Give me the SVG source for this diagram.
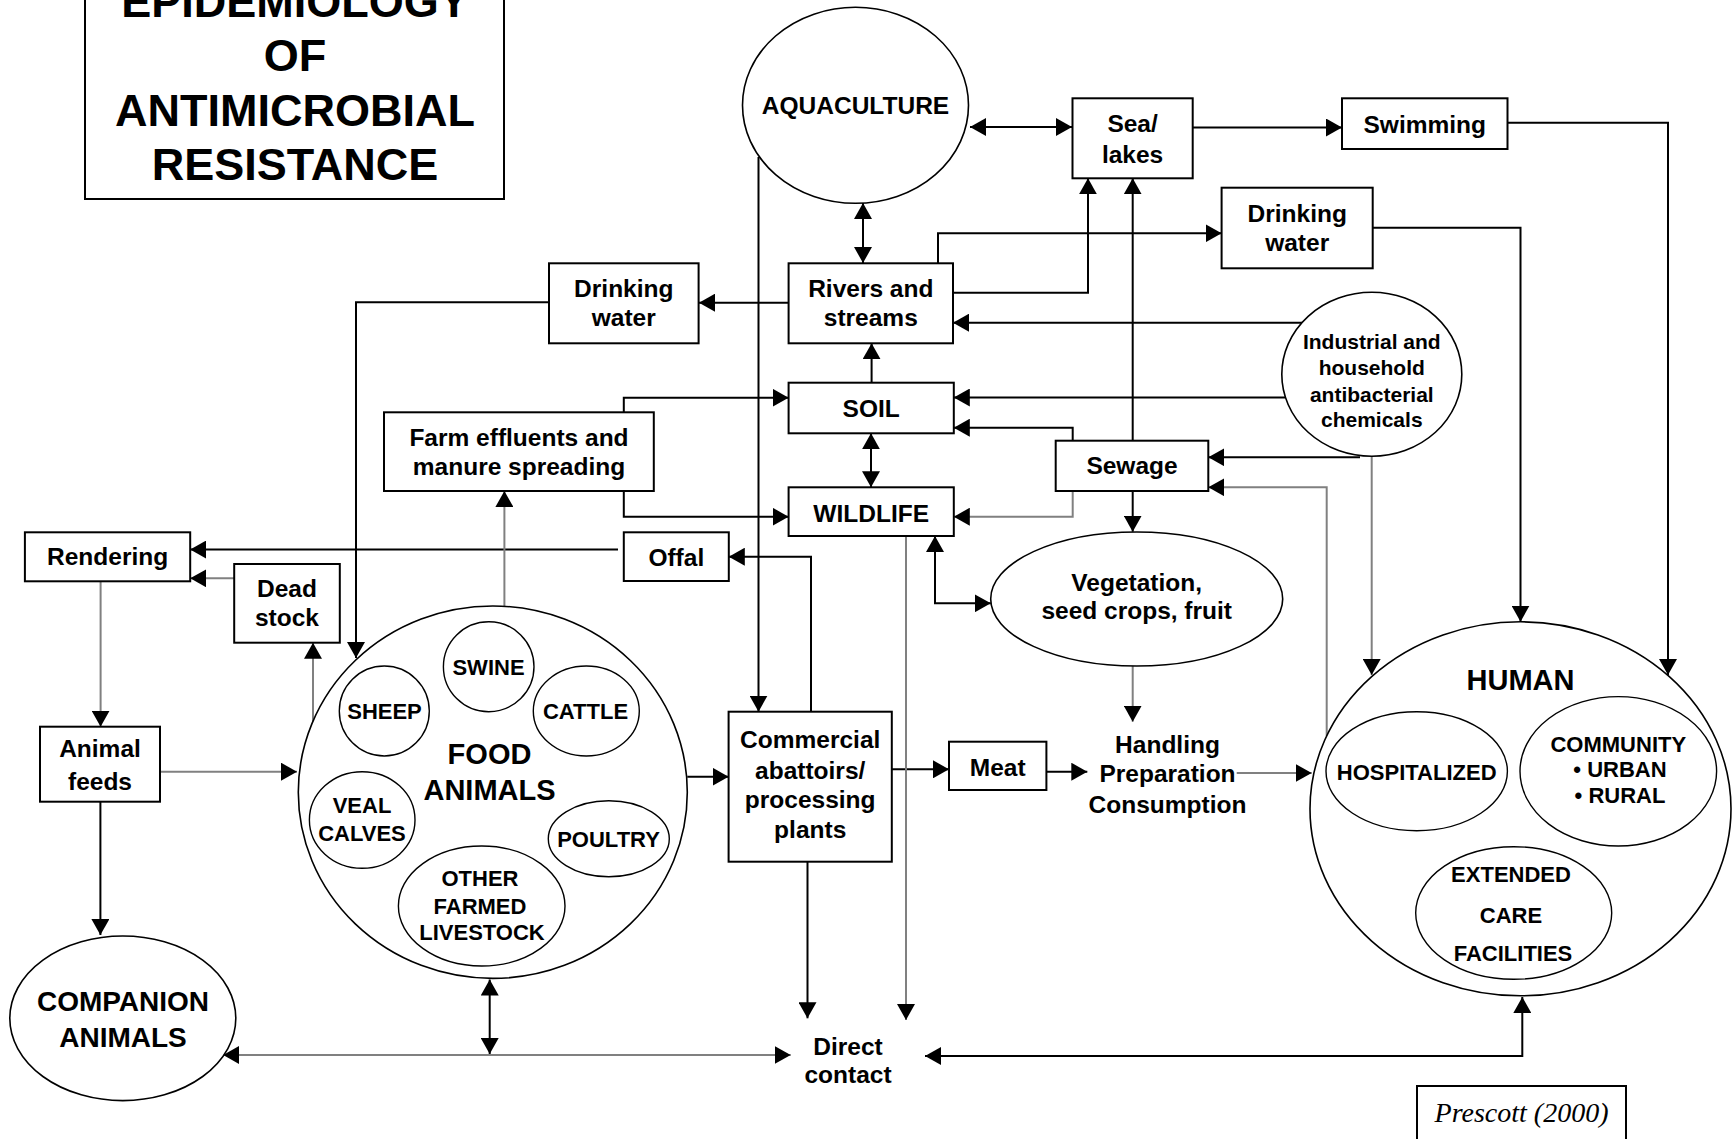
<svg xmlns="http://www.w3.org/2000/svg" width="1732" height="1139" viewBox="0 0 1732 1139">
<style>
  .bg{fill:#fff}
  .box{fill:#fff;stroke:#000;stroke-width:2}
  .ov{fill:#fff;stroke:#000;stroke-width:1.6}
  .in{fill:none;stroke:#000;stroke-width:1.4}
  text{font-family:"Liberation Sans",Arial,Helvetica,sans-serif;font-weight:bold;fill:#000;text-anchor:middle}
  .t{font-size:24.5px}
  .s{font-size:22px}
  .ind{font-size:21px}
  .big{font-size:29px}
  .title{font-size:45px}
  .cite{font-family:"Liberation Serif","Times New Roman",serif;font-weight:normal;font-style:italic;font-size:28px}
  .c{fill:none;stroke:#000;stroke-width:2}
  .g{fill:none;stroke:#808080;stroke-width:2}
  .c,.g{marker-end:url(#ah)}
  .c.g{stroke:#808080}
  .g{marker-end:url(#ahg)}
  .dbl{marker-start:url(#ah)}
  .dblg{marker-start:url(#ahg)}
</style>
<defs>
  <marker id="ah" markerUnits="userSpaceOnUse" markerWidth="17" markerHeight="18" refX="16" refY="9" orient="auto-start-reverse" viewBox="0 0 17 18">
    <path d="M0,0 L16,9 L0,18 z" fill="#000"/>
  </marker>
  <marker id="ahg" markerUnits="userSpaceOnUse" markerWidth="17" markerHeight="18" refX="16" refY="9" orient="auto-start-reverse" viewBox="0 0 17 18">
    <path d="M0,0 L16,9 L0,18 z" fill="#000"/>
  </marker>
</defs>
<rect class="bg" x="0" y="0" width="1732" height="1139"/>

<g id="connectors">
  <path class="c dbl" d="M970,127 H1072"/>
  <path class="c" d="M1193,127.5 H1342"/>
  <path class="c" d="M1507,122.7 H1668 V675"/>
  <path class="c dbl" d="M863,203 V263"/>
  <path class="c" d="M788.6,302.7 H699"/>
  <path class="c" d="M549,302.3 H356 V658"/>
  <path class="c" d="M758.5,157 V711.7"/>
  <path class="c" d="M953,292.7 H1088 V178.3"/>
  <path class="c" d="M938,263.3 V233.3 H1221.6"/>
  <path class="c" d="M1372.7,227.7 H1520.5 V621.7"/>
  <path class="c" d="M1302,322.7 H953"/>
  <path class="c" d="M871.6,382.7 V343.3"/>
  <path class="c" d="M1285,397.5 H953.8"/>
  <path class="c" d="M1360,457.3 H1208.3"/>
  <path class="c" d="M1132.7,440.7 V178.3"/>
  <path class="c" d="M1072.7,440.7 V427.7 H953.8"/>
  <path class="c" d="M1132.7,491 V531.7"/>
  <path class="c dbl" d="M871,433.3 V487.3"/>
  <path class="c" d="M623.8,412.3 V397.7 H788.6"/>
  <path class="c" d="M623.8,491 V516.7 H788.6"/>
  <path class="c dbl" d="M935,536 V603.3 H990.8"/>
  <path class="c" d="M811,711.7 V556.7 H728.8"/>
  <path class="c" d="M618,549.5 H190.2"/>
  <path class="c" d="M891.8,769.3 H949"/>
  <path class="c" d="M1046.4,771.7 H1087.3"/>
  <path class="c" d="M687.3,776.7 H728.6"/>
  <path class="c" d="M807.5,861.7 V1018.3"/>
  <path class="c" d="M100.4,801.7 V935"/>
  <path class="c dbl" d="M489.7,979.5 V1054"/>
  <path class="c dbl" d="M925,1056 H1522.3 V997"/>
  <path class="g" d="M100.6,581.3 V726.7"/>
  <path class="g" d="M234.2,578.3 H190.2"/>
  <path class="g" d="M313,721 V642.7"/>
  <path class="g" d="M504.4,606 V491"/>
  <path class="g" d="M160,771.7 H297"/>
  <path class="g" d="M1072.7,491 V516.7 H953.8"/>
  <path class="g" d="M906,536 V1020"/>
  <path class="g" d="M1132.7,666 V721.7"/>
  <path class="g" d="M1236.7,773 H1311.7"/>
  <path class="g" d="M1371.7,456 V675"/>
  <path class="g" d="M1326.7,736 V487.3 H1208.3"/>
  <path class="g dblg" d="M223.2,1055 H790.7"/>
</g>

<g id="title">
  <rect class="box" x="85" y="-10" width="419" height="209"/>
  <text class="title" x="295" y="16.5">EPIDEMIOLOGY</text>
  <text class="title" x="295" y="71">OF</text>
  <text class="title" x="295" y="126">ANTIMICROBIAL</text>
  <text class="title" x="295" y="180">RESISTANCE</text>
</g>

<g id="aquaculture">
  <ellipse class="ov" cx="855.5" cy="105.3" rx="113" ry="98"/>
  <text class="t" x="855.5" y="114.3">AQUACULTURE</text>
</g>
<g id="sea-lakes">
  <rect class="box" x="1072.5" y="98.3" width="120.2" height="80"/>
  <text class="t" x="1132.6" y="132">Sea/</text>
  <text class="t" x="1132.6" y="163">lakes</text>
</g>
<g id="swimming">
  <rect class="box" x="1342" y="98.3" width="165.5" height="50.7"/>
  <text class="t" x="1424.8" y="133.3">Swimming</text>
</g>
<g id="drinking-water-right">
  <rect class="box" x="1221.6" y="187.7" width="151.1" height="80.6"/>
  <text class="t" x="1297.2" y="221.7">Drinking</text>
  <text class="t" x="1297.2" y="250.5">water</text>
</g>
<g id="rivers">
  <rect class="box" x="788.6" y="263.3" width="164.4" height="80"/>
  <text class="t" x="870.8" y="296.7">Rivers and</text>
  <text class="t" x="870.8" y="326">streams</text>
</g>
<g id="drinking-water-left">
  <rect class="box" x="549" y="263.3" width="149.6" height="80"/>
  <text class="t" x="623.8" y="296.7">Drinking</text>
  <text class="t" x="623.8" y="326">water</text>
</g>
<g id="industrial">
  <ellipse class="ov" cx="1371.8" cy="374.3" rx="90" ry="82"/>
  <text class="ind" x="1371.8" y="349">Industrial and</text>
  <text class="ind" x="1371.8" y="375">household</text>
  <text class="ind" x="1371.8" y="401.7">antibacterial</text>
  <text class="ind" x="1371.8" y="427">chemicals</text>
</g>
<g id="soil">
  <rect class="box" x="788.6" y="382.7" width="165.2" height="50.6"/>
  <text class="t" x="871.2" y="416.7">SOIL</text>
</g>
<g id="farm-effluents">
  <rect class="box" x="384" y="412.3" width="269.8" height="78.7"/>
  <text class="t" x="519" y="446">Farm effluents and</text>
  <text class="t" x="519" y="475">manure spreading</text>
</g>
<g id="sewage">
  <rect class="box" x="1055.7" y="440.7" width="152.6" height="50.3"/>
  <text class="t" x="1132" y="474">Sewage</text>
</g>
<g id="wildlife">
  <rect class="box" x="788.6" y="487.3" width="165.2" height="48.7"/>
  <text class="t" x="871.2" y="521.7">WILDLIFE</text>
</g>
<g id="offal">
  <rect class="box" x="623.8" y="532.3" width="105" height="48.7"/>
  <text class="t" x="676.3" y="566">Offal</text>
</g>
<g id="rendering">
  <rect class="box" x="24.9" y="532.3" width="165.3" height="49"/>
  <text class="t" x="107.6" y="565">Rendering</text>
</g>
<g id="dead-stock">
  <rect class="box" x="234.2" y="564" width="105.6" height="78.7"/>
  <text class="t" x="287" y="596.7">Dead</text>
  <text class="t" x="287" y="626">stock</text>
</g>
<g id="vegetation">
  <ellipse class="ov" cx="1136.7" cy="599" rx="146" ry="67"/>
  <text class="t" x="1136.7" y="590.7">Vegetation,</text>
  <text class="t" x="1136.7" y="619.3">seed crops, fruit</text>
</g>
<g id="food-animals">
  <ellipse class="ov" cx="492.8" cy="792.2" rx="194.5" ry="186.2"/>
  <text class="big" x="489.5" y="764">FOOD</text>
  <text class="big" x="489.5" y="800">ANIMALS</text>
  <ellipse class="in" cx="488.7" cy="666.7" rx="45.3" ry="45"/>
  <text class="s" x="488.5" y="675">SWINE</text>
  <ellipse class="in" cx="384.3" cy="711" rx="45" ry="45"/>
  <text class="s" x="384.5" y="719.3">SHEEP</text>
  <ellipse class="in" cx="586.3" cy="711" rx="53" ry="45"/>
  <text class="s" x="585.5" y="719.3">CATTLE</text>
  <ellipse class="in" cx="362.2" cy="820" rx="52.8" ry="48.3"/>
  <text class="s" x="362" y="813.3">VEAL</text>
  <text class="s" x="362" y="840.7">CALVES</text>
  <ellipse class="in" cx="608.8" cy="838.7" rx="60.5" ry="38"/>
  <text class="s" x="608.5" y="846.7">POULTRY</text>
  <ellipse class="in" cx="481.7" cy="906" rx="83.3" ry="60"/>
  <text class="s" x="480" y="886">OTHER</text>
  <text class="s" x="480" y="914">FARMED</text>
  <text class="s" x="482" y="940">LIVESTOCK</text>
</g>
<g id="animal-feeds">
  <rect class="box" x="40" y="726.7" width="120" height="75"/>
  <text class="t" x="100" y="756.7">Animal</text>
  <text class="t" x="100" y="790">feeds</text>
</g>
<g id="abattoirs">
  <rect class="box" x="728.6" y="711.7" width="163.2" height="150"/>
  <text class="t" x="810.2" y="748.3">Commercial</text>
  <text class="t" x="810.2" y="778.5">abattoirs/</text>
  <text class="t" x="810.2" y="808.3">processing</text>
  <text class="t" x="810.2" y="838.3">plants</text>
</g>
<g id="meat">
  <rect class="box" x="949" y="741.7" width="97.4" height="48.3"/>
  <text class="t" x="997.7" y="776">Meat</text>
</g>
<g id="handling">
  <text class="t" x="1167.5" y="753">Handling</text>
  <text class="t" x="1167.5" y="782">Preparation</text>
  <text class="t" x="1167.5" y="812.7">Consumption</text>
</g>
<g id="human">
  <ellipse class="ov" cx="1520.5" cy="808.8" rx="210.5" ry="187"/>
  <text class="big" x="1520.5" y="690">HUMAN</text>
  <ellipse class="in" cx="1416.7" cy="771.2" rx="90.7" ry="59.5"/>
  <text class="s" x="1416.7" y="780">HOSPITALIZED</text>
  <ellipse class="in" cx="1618.3" cy="771.3" rx="98.3" ry="74.7"/>
  <text class="s" x="1618.3" y="751.7">COMMUNITY</text>
  <text class="s" x="1620" y="777.3">• URBAN</text>
  <text class="s" x="1620" y="803.3">• RURAL</text>
  <ellipse class="in" cx="1513.7" cy="913" rx="98" ry="66.3"/>
  <text class="s" x="1511" y="881.7">EXTENDED</text>
  <text class="s" x="1511" y="922.7">CARE</text>
  <text class="s" x="1513" y="961">FACILITIES</text>
</g>
<g id="companion-animals">
  <ellipse class="ov" cx="122.8" cy="1018.3" rx="113" ry="82.3"/>
  <text class="big" x="123" y="1011" style="font-size:28px">COMPANION</text>
  <text class="big" x="123" y="1046.7" style="font-size:28px">ANIMALS</text>
</g>
<g id="direct-contact">
  <text class="t" x="848" y="1055">Direct</text>
  <text class="t" x="848" y="1083.3">contact</text>
</g>
<g id="citation">
  <rect class="box" x="1417" y="1086" width="209" height="70"/>
  <text class="cite" x="1521.5" y="1121.7">Prescott (2000)</text>
</g>
</svg>
